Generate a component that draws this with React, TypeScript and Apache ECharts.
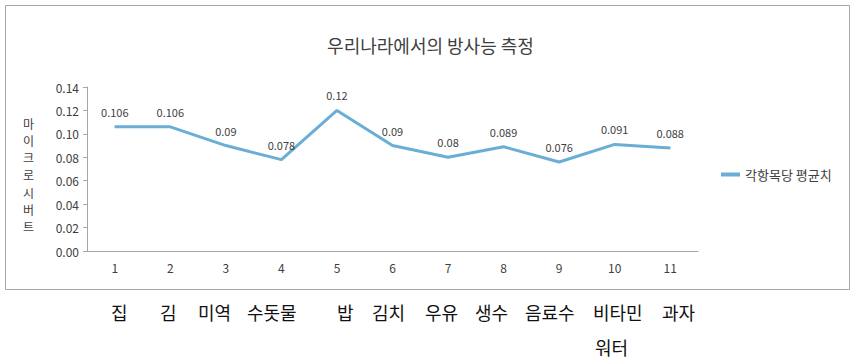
import React, { useEffect, useRef } from "react";
import * as echarts from "echarts";

const title = "우리나라에서의 방사능 측정";
const seriesName = "각항목당 평균치";
const yAxisName = ["마", "이", "크", "로", "시", "버", "트"];
const categories = ["1", "2", "3", "4", "5", "6", "7", "8", "9", "10", "11"];
const values = [0.106, 0.106, 0.09, 0.078, 0.12, 0.09, 0.08, 0.089, 0.076, 0.091, 0.088];
const bottomWords = ["집", "김", "미역", "수돗물", "밥", "김치", "우유", "생수", "음료수", "비타민", "과자"];
const bottomWordX = [111, 160, 198, 247, 337, 372, 425, 475, 525, 593, 662];
const secondLineWord = "워터";
const secondLineX = 595;

const FONT = "'Noto Sans CJK KR', 'Noto Sans', sans-serif";

export default function App() {
  const ref = useRef<HTMLDivElement>(null);
  useEffect(() => {
    if (!ref.current) return;
    const chart = echarts.init(ref.current, undefined, { renderer: "svg" });
    const bottomTexts = bottomWords.map((w, i) => ({
      type: "text",
      left: bottomWordX[i],
      top: 303,
      style: { text: w, fontSize: 18, fill: "#111", fontFamily: FONT },
    }));
    chart.setOption({
      animation: false,
      textStyle: { fontFamily: FONT },
      title: {
        text: title,
        left: "center",
        top: 31,
        textStyle: { fontSize: 18, fontWeight: "normal", color: "#404040", fontFamily: FONT },
      },
      legend: {
        data: [seriesName],
        left: 716,
        top: 163,
        icon: "rect",
        itemWidth: 19,
        itemHeight: 4,
        itemGap: 4,
        textStyle: { fontSize: 13, color: "#404040", fontFamily: FONT },
      },
      grid: { left: 87, top: 87, right: 163, bottom: 111, containLabel: false },
      xAxis: {
        type: "category",
        data: categories,
        boundaryGap: true,
        axisLine: { lineStyle: { color: "#a6a6a6" } },
        axisTick: { show: false },
        axisLabel: { color: "#404040", fontSize: 12, margin: 10 },
      },
      yAxis: {
        type: "value",
        min: 0,
        max: 0.14,
        interval: 0.02,
        axisLine: { show: true, lineStyle: { color: "#a6a6a6" } },
        axisTick: { show: true, length: 4, lineStyle: { color: "#a6a6a6" } },
        splitLine: { show: false },
        axisLabel: {
          color: "#404040",
          fontSize: 12,
          margin: 8,
          formatter: (v: number) => v.toFixed(2),
        },
      },
      series: [
        {
          name: seriesName,
          type: "line",
          data: values,
          symbol: "circle",
          symbolSize: 1,
          lineStyle: { color: "#6aaed6", width: 3 },
          itemStyle: { color: "#6aaed6" },
          label: {
            show: true,
            position: "top",
            distance: 9,
            fontSize: 11,
            color: "#404040",
          },
        },
      ],
      graphic: [
        {
          type: "rect",
          shape: { x: 5.5, y: 5.5, width: 844, height: 284 },
          style: { fill: "none", stroke: "#a6a6a6", lineWidth: 1 },
        },
        ...yAxisName.map((c, i) => ({
          type: "text",
          left: 23,
          top: 117 + i * 17.3,
          style: { text: c, fontSize: 12, fill: "#404040", fontFamily: FONT },
        })),
        ...bottomTexts,
        {
          type: "text",
          left: secondLineX,
          top: 338,
          style: { text: secondLineWord, fontSize: 18, fill: "#111", fontFamily: FONT },
        },
      ],
    });
    return () => chart.dispose();
  }, []);
  return (
    <div
      ref={ref}
      style={{ position: "absolute", left: 0, top: 0, width: 861, height: 362, background: "#fff" }}
    />
  );
}
